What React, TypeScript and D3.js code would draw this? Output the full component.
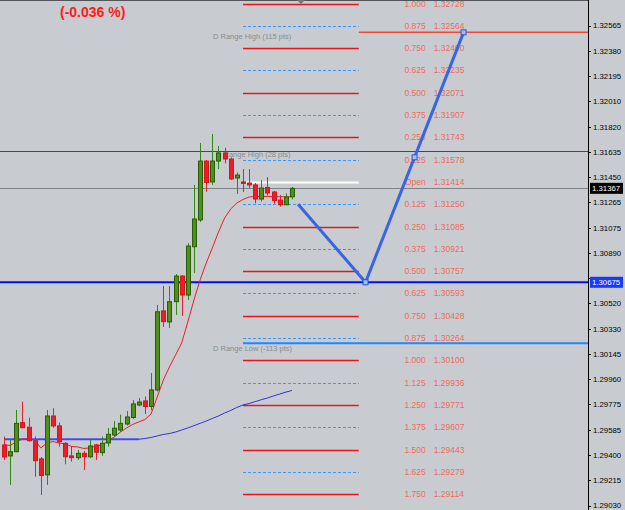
import React from 'react';
import * as d3 from 'd3';

// Candles, index 0..47
const opens = [1.29477,1.29396,1.29427,1.29641,1.29607,1.29508,1.29374,1.29256,1.29690,1.29617,1.29489,1.29396,1.29383,1.29415,1.29390,1.29477,1.29420,1.29491,1.29550,1.29587,1.29631,1.29679,1.29771,1.29801,1.29760,1.29882,1.30464,1.30383,1.30532,1.30721,1.30581,1.30937,1.31134,1.31568,1.31414,1.31568,1.31627,1.31583,1.31443,1.31414,1.31406,1.31392,1.31288,1.31373,1.31340,1.31281,1.31246,1.31305];
const highs = [1.29538,1.29513,1.29734,1.29796,1.29678,1.29538,1.29388,1.29734,1.29747,1.29641,1.29497,1.29469,1.29440,1.29432,1.29513,1.29484,1.29538,1.29602,1.29653,1.29701,1.29727,1.29808,1.29823,1.29834,1.30007,1.30508,1.30648,1.30648,1.30736,1.30729,1.30964,1.31392,1.31701,1.31576,1.31767,1.31679,1.31666,1.31594,1.31484,1.31509,1.31509,1.31406,1.31428,1.31450,1.31347,1.31318,1.31330,1.31377];
const lows = [1.29366,1.29182,1.29423,1.29600,1.29501,1.29243,1.29108,1.29182,1.29604,1.29464,1.29334,1.29354,1.29366,1.29292,1.29379,1.29366,1.29396,1.29464,1.29536,1.29572,1.29620,1.29668,1.29760,1.29705,1.29734,1.29871,1.30346,1.30338,1.30434,1.30427,1.30545,1.30743,1.31119,1.31342,1.31392,1.31509,1.31551,1.31428,1.31325,1.31340,1.31369,1.31257,1.31270,1.31314,1.31252,1.31233,1.31244,1.31285];
const closes = [1.29388,1.29427,1.29636,1.29604,1.29508,1.29361,1.29252,1.29690,1.29617,1.29501,1.29390,1.29383,1.29415,1.29390,1.29469,1.29423,1.29489,1.29555,1.29600,1.29636,1.29683,1.29779,1.29793,1.29760,1.29882,1.30458,1.30385,1.30532,1.30721,1.30581,1.30942,1.31141,1.31568,1.31410,1.31568,1.31627,1.31583,1.31436,1.31465,1.31403,1.31392,1.31288,1.31369,1.31333,1.31277,1.31246,1.31303,1.31367];

const maFast = [1.29477,1.29473,1.29499,1.29521,1.29521,1.29513,1.29455,1.29491,1.29502,1.29491,1.29484,1.29466,1.29462,1.29451,1.29455,1.29469,1.29477,1.29506,1.29536,1.29572,1.29602,1.29628,1.29646,1.29664,1.29705,1.29830,1.29955,1.30051,1.30139,1.30228,1.30383,1.30545,1.30692,1.30817,1.30928,1.31045,1.31148,1.31215,1.31259,1.31285,1.31303,1.31307,1.31307,1.31307,1.31307,1.31305,1.31305,1.31305];
const maSlow = [1.29519,1.29519,1.29519,1.29519,1.29519,1.29519,1.29519,1.29519,1.29519,1.29519,1.29519,1.29519,1.29519,1.29519,1.29519,1.29519,1.29519,1.29519,1.29519,1.29519,1.29519,1.29519,1.29519,1.29524,1.29532,1.29543,1.29554,1.29561,1.29572,1.29587,1.29602,1.29619,1.29636,1.29653,1.29672,1.29690,1.29712,1.29731,1.29753,1.29771,1.29782,1.29796,1.29810,1.29823,1.29838,1.29852,1.29866,1.29878];

const axisTicks = [1.32565,1.32380,1.32195,1.32010,1.31820,1.31635,1.31450,1.31265,1.31075,1.30890,1.30520,1.30330,1.30145,1.29960,1.29775,1.29585,1.29400,1.29215,1.29030];
const hiddenTick = 1.30705;

const fibLabels = ['1.000','0.875','0.750','0.625','0.500','0.375','0.250','0.125','Open','0.125','0.250','0.375','0.500','0.625','0.750','0.875','1.000','1.125','1.250','1.375','1.500','1.625','1.750'];
const fibPrices = [1.32728,1.32564,1.32400,1.32235,1.32071,1.31907,1.31743,1.31578,1.31414,1.31250,1.31085,1.30921,1.30757,1.30593,1.30428,1.30264,1.30100,1.29936,1.29771,1.29607,1.29443,1.29279,1.29114];

const currentPrice = 1.31367;
const pivotLine = 1.30675;
const dayHigh = 1.32516;
const weekHigh = 1.31640;
const dayLow = 1.30225;
const projIdx = [48, 59, 75];
const projPrice = [1.31250, 1.30675, 1.32516];

export default function App() {
  const W = 625, H = 510, R = 588;
  const x = d3.scaleLinear().domain([0, 47]).range([4, 292]);
  const y = d3.scaleLinear().domain([1.29030, 1.32565]).range([505.6, 25.7]);
  const fibX0 = x(39), fibX1 = x(57.9);
  const bg = '#c8ccd0';
  const fibColor = '#f26a5a';
  const line = d3.line<number>().x((_, i) => x(i)).y(d => y(d));
  const slowHead = maSlow.slice(0, 23);
  const projPts = projIdx.map((i, k) => [x(i), y(projPrice[k])]);
  const mid = [(projPts[1][0] + projPts[2][0]) / 2, (projPts[1][1] + projPts[2][1]) / 2];
  const projPath = d3.line()(projPts as [number, number][]) || '';
  const lblFont = '"Liberation Sans", Arial, sans-serif';

  return (
    <svg width={W} height={H} style={{ position: 'absolute', left: 0, top: 0 }} fontFamily={lblFont}>
      <rect x={0} y={0} width={W} height={H} fill={bg} />
      <line x1={0} x2={R} y1={0.5} y2={0.5} stroke="#50555a" />
      <path d={`M297,0 L305,0 L301,4 Z`} fill="#70767c" />
      <text x={60} y={17} fontSize={14} fontWeight="bold" fill="#ff1a1a">(-0.036 %)</text>

      {/* fib lines */}
      {fibPrices.map((p, i) => {
        const isOpen = fibLabels[i] === 'Open';
        const dotted = !isOpen && ['0.875', '0.625', '0.375', '0.125', '1.125', '1.375', '1.625'].includes(fibLabels[i]);
        const yy = Math.round(y(p)) + 0.5;
        return (
          <g key={i}>
            <line x1={fibX0} x2={fibX1} y1={yy} y2={yy}
              stroke={isOpen ? '#ffffff' : dotted ? '#3399ff' : '#e8141c'}
              strokeWidth={isOpen ? 2 : dotted ? 1 : 1.5}
              strokeDasharray={dotted ? '3,2' : undefined} />
            <text x={fibX1 + 67} y={y(p)} dy="0.35em" textAnchor="end" fontSize={8.5} fill={fibColor}>{fibLabels[i]}</text>
            <text x={fibX1 + 75} y={y(p)} dy="0.35em" fontSize={8.5} fill={fibColor}>{p.toFixed(5)}</text>
          </g>
        );
      })}

      {/* horizontal lines */}
      <line x1={0} x2={R} y1={Math.round(y(currentPrice)) + 0.5} y2={Math.round(y(currentPrice)) + 0.5} stroke="#7c848a" strokeWidth={1} />
      <line x1={0} x2={R} y1={Math.round(y(weekHigh)) + 0.5} y2={Math.round(y(weekHigh)) + 0.5} stroke="#c8101a" strokeWidth={1} />
      <line x1={fibX1} x2={R} y1={y(dayHigh)} y2={y(dayHigh)} stroke="#f04a30" strokeWidth={1.5} />
      <line x1={fibX0} x2={R} y1={y(dayLow)} y2={y(dayLow)} stroke="#1e88ff" strokeWidth={2} />
      <line x1={0} x2={R} y1={y(pivotLine)} y2={y(pivotLine)} stroke="#0010f0" strokeWidth={2} />

      <text x={213} y={y(dayHigh) + 4} dy="0.35em" fontSize={7.5} fill="#868c92">D Range High (115 pts)</text>
      <text x={216} y={y(weekHigh) + 3} dy="0.35em" fontSize={7.5} fill="#868c92">D Range High (28 pts)</text>
      <text x={213} y={y(dayLow) + 5} dy="0.35em" fontSize={7.5} fill="#868c92">D Range Low (-113 pts)</text>

      {/* moving averages */}
      <path d={d3.line<number>().x((_, i) => x(i)).y(d => y(d))(slowHead) || ''} fill="none" stroke="#8a8cf0" strokeWidth={2.5} />
      <path d={line(maSlow) || ''} fill="none" stroke="#1418d8" strokeWidth={1} strokeOpacity={0.85} />
      <path d={line(maFast) || ''} fill="none" stroke="#ee1c25" strokeWidth={1} />

      {/* candles */}
      {opens.map((o, i) => {
        const c = closes[i];
        const up = c >= o;
        const cx = Math.round(x(i)) + 0.5;
        const top = y(Math.max(o, c)), bot = y(Math.min(o, c));
        return (
          <g key={i}>
            <line x1={cx} x2={cx} y1={y(highs[i])} y2={y(lows[i])} stroke={up ? '#2f8a12' : '#e8202a'} strokeWidth={1} />
            <rect x={cx - 2} y={top} width={4} height={Math.max(1, bot - top)}
              fill={up ? '#4f8f1c' : '#ee1c25'} stroke={up ? '#2a5c0a' : '#d8141c'} strokeWidth={1} />
          </g>
        );
      })}

      {/* projection */}
      <path d={projPath} fill="none" stroke="#3a64e0" strokeWidth={3} />
      {[projPts[1], mid, projPts[2]].map((p, i) => (
        <rect key={i} x={p[0] - 2.5} y={p[1] - 2.5} width={5} height={5} fill="#a8bcf0" stroke="#2a54d0" strokeWidth={1} />
      ))}

      {/* right axis */}
      <line x1={R + 0.5} x2={R + 0.5} y1={0} y2={H} stroke="#000" strokeWidth={1} />
      {axisTicks.map((t, i) => (
        <g key={i}>
          <line x1={R} x2={R + 3} y1={Math.round(y(t)) + 0.5} y2={Math.round(y(t)) + 0.5} stroke="#000" />
          <text x={R + 5} y={y(t)} dy="0.35em" fontSize={7.8} fill="#000">{t.toFixed(5)}</text>
        </g>
      ))}
      <line x1={R} x2={R + 3} y1={Math.round(y(hiddenTick)) + 0.5} y2={Math.round(y(hiddenTick)) + 0.5} stroke="#000" />
      <rect x={R + 2} y={y(currentPrice) - 5.5} width={33} height={11} fill="#000" />
      <text x={R + 4} y={y(currentPrice)} dy="0.35em" fontSize={7.8} fill="#fff">{currentPrice.toFixed(5)}</text>
      <rect x={R + 2} y={y(pivotLine) - 5.5} width={33} height={11} fill="#1638ff" />
      <text x={R + 4} y={y(pivotLine)} dy="0.35em" fontSize={7.8} fill="#fff">{pivotLine.toFixed(5)}</text>
    </svg>
  );
}
